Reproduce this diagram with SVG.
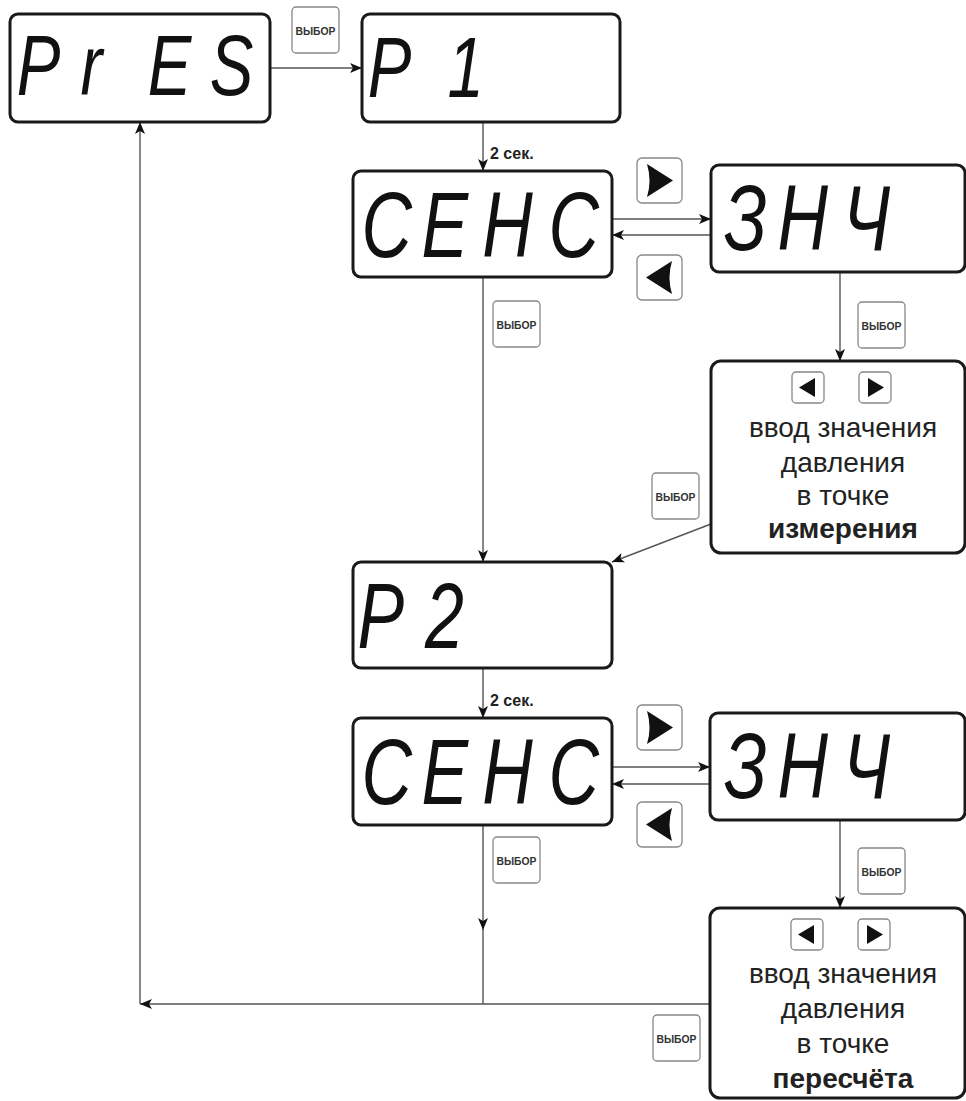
<svg xmlns="http://www.w3.org/2000/svg" width="966" height="1101" viewBox="0 0 966 1101">
<defs>
<style>
.disp{fill:#fff;stroke:#1a1a1a;stroke-width:3}
.seg{font-family:"Liberation Sans",Arial,sans-serif;font-style:italic;fill:#111}
.s86{font-size:86px}
.s92{font-size:92px}
.btn{fill:#fff;stroke:#888;stroke-width:1.3}
.btxt{font-family:"Liberation Sans",Arial,sans-serif;font-weight:bold;font-size:10px;fill:#333}
.tri{fill:#111}
.conn{fill:none;stroke:#555;stroke-width:1.4}
.lbl{font-family:"Liberation Sans",Arial,sans-serif;font-weight:bold;font-size:16px;fill:#222}
.info{font-family:"Liberation Sans",Arial,sans-serif;font-size:28px;fill:#222;text-anchor:middle}
.infob{font-weight:bold}
</style>
<marker id="ah" viewBox="0 0 12 10" refX="12" refY="5" markerWidth="12" markerHeight="10" markerUnits="userSpaceOnUse" orient="auto">
<path d="M0,0 L12,5 L0,10 L3,5 Z" fill="#111"/>
</marker>
<g id="sel">
<rect class="btn" x="0" y="0" width="47" height="46" rx="4"/>
<text class="btxt" x="3.5" y="27.5" textLength="40" lengthAdjust="spacingAndGlyphs">ВЫБОР</text>
</g>
<g id="rbtn">
<rect class="btn" x="0" y="0" width="45" height="45" rx="5"/>
<path class="tri" d="M10,6 L36,22.5 L10,39 Q15,22.5 10,6 Z"/>
</g>
<g id="lbtn">
<rect class="btn" x="0" y="0" width="45" height="45" rx="5"/>
<path class="tri" d="M35,6 L9,22.5 L35,39 Q30,22.5 35,6 Z"/>
</g>
<g id="srbtn">
<rect class="btn" x="0" y="0" width="32" height="31" rx="4"/>
<path class="tri" d="M9,6 L25,15.5 L9,25 Z"/>
</g>
<g id="slbtn">
<rect class="btn" x="0" y="0" width="32" height="31" rx="4"/>
<path class="tri" d="M23,6 L7,15.5 L23,25 Z"/>
</g>
</defs>
<rect width="966" height="1101" fill="#fff"/>

<g id="connectors">
<path class="conn" d="M270,68 H362" marker-end="url(#ah)"/>
<path class="conn" d="M483,122 V171" marker-end="url(#ah)"/>
<path class="conn" d="M612,219 H711" marker-end="url(#ah)"/>
<path class="conn" d="M711,235 H612" marker-end="url(#ah)"/>
<path class="conn" d="M840,272 V361" marker-end="url(#ah)"/>
<path class="conn" d="M483,277 V562" marker-end="url(#ah)"/>
<path class="conn" d="M711,524 L612,562" marker-end="url(#ah)"/>
<path class="conn" d="M483,668 V718" marker-end="url(#ah)"/>
<path class="conn" d="M612,767 H710" marker-end="url(#ah)"/>
<path class="conn" d="M710,784 H612" marker-end="url(#ah)"/>
<path class="conn" d="M840,820 V908" marker-end="url(#ah)"/>
<path class="conn" d="M483,825 V930" marker-end="url(#ah)"/>
<path class="conn" d="M483,928 V1004"/>
<path class="conn" d="M710,1004 H140" marker-end="url(#ah)"/>
<path class="conn" d="M140,1004 V122" marker-end="url(#ah)"/>
<text class="lbl" x="490" y="159">2 сек.</text>
<text class="lbl" x="490" y="706">2 сек.</text>
<use href="#sel" x="292" y="7"/>
<use href="#sel" x="493" y="301"/>
<use href="#sel" x="858" y="302"/>
<use href="#sel" x="652" y="473"/>
<use href="#sel" x="493" y="837"/>
<use href="#sel" x="858" y="848"/>
<use href="#sel" x="653" y="1015"/>
<use href="#rbtn" x="637" y="158"/>
<use href="#lbtn" x="637" y="255"/>
<use href="#rbtn" x="637" y="705"/>
<use href="#lbtn" x="637" y="802"/>
</g>

<g id="node-pres">
<rect class="disp" x="10" y="14" width="260" height="108" rx="8"/>
<text class="seg s86" transform="scale(0.76,1)" x="22.1 105.8 194.5 275.9" y="95">PrES</text>
</g>
<g id="node-p1">
<rect class="disp" x="362" y="14" width="258" height="108" rx="8"/>
<text class="seg s86" transform="scale(0.76,1)" x="483.9 588.7" y="97">P1</text>
</g>
<g id="node-sens1">
<rect class="disp" x="353" y="171" width="259" height="106" rx="8"/>
<text class="seg s92" transform="scale(0.76,1)" x="475.7 554.5 634.7 721.7" y="257">СЕНС</text>
</g>
<g id="node-znch1">
<rect class="disp" x="711" y="165" width="254" height="107" rx="8"/>
<text class="seg s92" transform="scale(0.76,1)" x="952.6 1022.9 1109.2" y="250">ЗНЧ</text>
</g>
<g id="node-input1">
<rect class="disp" x="711" y="361" width="254" height="192" rx="10"/>
<use href="#slbtn" x="792" y="372"/>
<use href="#srbtn" x="859" y="372"/>
<text class="info" x="843" y="437">ввод значения</text>
<text class="info" x="843" y="472">давления</text>
<text class="info" x="843" y="505">в точке</text>
<text class="info infob" x="843" y="538">измерения</text>
</g>
<g id="node-p2">
<rect class="disp" x="353" y="562" width="259" height="106" rx="8"/>
<text class="seg s92" transform="scale(0.76,1)" x="470.3 559.2" y="648">P2</text>
</g>
<g id="node-sens2">
<rect class="disp" x="353" y="718" width="259" height="107" rx="8"/>
<text class="seg s92" transform="scale(0.76,1)" x="475.7 554.5 634.7 721.7" y="804">СЕНС</text>
</g>
<g id="node-znch2">
<rect class="disp" x="710" y="713" width="255" height="107" rx="8"/>
<text class="seg s92" transform="scale(0.76,1)" x="952.6 1022.9 1109.2" y="798">ЗНЧ</text>
</g>
<g id="node-input2">
<rect class="disp" x="710" y="908" width="255" height="190" rx="10"/>
<use href="#slbtn" x="791" y="919"/>
<use href="#srbtn" x="858" y="919"/>
<text class="info" x="843" y="983">ввод значения</text>
<text class="info" x="843" y="1018">давления</text>
<text class="info" x="843" y="1053">в точке</text>
<text class="info infob" x="843" y="1088">пересчёта</text>
</g>
</svg>
